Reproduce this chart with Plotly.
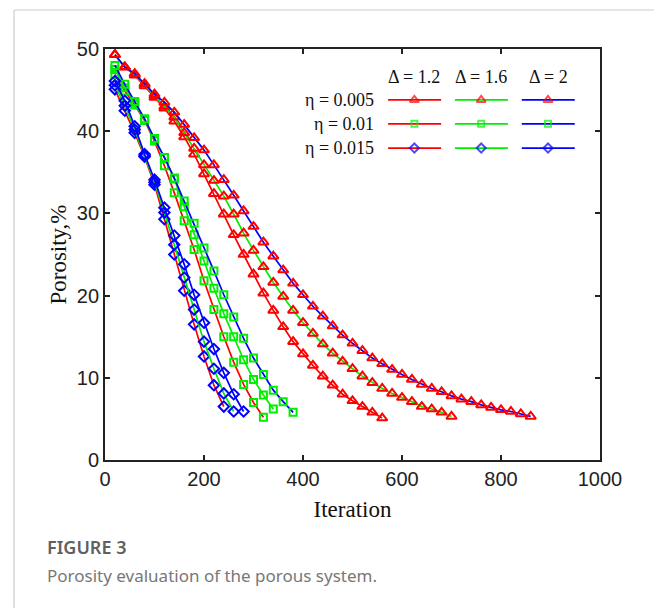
import plotly.graph_objects as go

# Iteration values (shared x grid, each series uses its first N entries)
iterations = [20, 40, 60, 80, 100, 120, 140, 160, 180, 200,
              220, 240, 260, 280, 300, 320, 340, 360, 380, 400,
              420, 440, 460, 480, 500, 520, 540, 560, 580, 600,
              620, 640, 660, 680, 700, 720, 740, 760, 780, 800,
              820, 840, 860]

# eta = 0.005 (triangles)
eta005_d12 = [49.3, 47.8, 46.8, 45.5, 44.1, 42.8, 41.2, 39.3, 37.2, 34.8,
              32.4, 29.9, 27.4, 25.0, 22.6, 20.3, 18.2, 16.2, 14.4, 12.9,
              11.5, 10.2, 9.1, 8.0, 7.2, 6.5, 5.8, 5.1]
eta005_d16 = [49.3, 47.8, 46.9, 45.7, 44.3, 43.0, 41.7, 39.8, 37.9, 35.9,
              34.0, 32.1, 29.9, 27.6, 25.5, 23.5, 21.6, 19.9, 18.2, 16.7,
              15.4, 14.1, 13.0, 12.0, 11.1, 10.2, 9.4, 8.7, 8.1, 7.6,
              7.1, 6.5, 6.2, 5.8, 5.3]
eta005_d2 = [49.3, 47.8, 47.0, 45.8, 44.5, 43.5, 42.3, 40.8, 39.2, 37.7,
             35.9, 34.1, 32.2, 30.3, 28.4, 26.5, 24.8, 23.1, 21.5, 20.1,
             18.7, 17.5, 16.3, 15.2, 14.2, 13.3, 12.4, 11.7, 11.0, 10.4,
             9.8, 9.2, 8.7, 8.3, 7.8, 7.4, 7.1, 6.7, 6.4, 6.1,
             5.9, 5.6, 5.3]

# eta = 0.01 (squares)
eta01_d12 = [46.9, 44.9, 43.2, 41.3, 38.8, 35.8, 32.5, 29.1, 25.6, 21.8,
             18.3, 15.0, 11.9, 9.2, 7.0, 5.2]
eta01_d16 = [47.5, 45.3, 43.4, 41.4, 39.0, 36.8, 34.2, 30.8, 27.4, 24.2,
             20.9, 17.8, 15.0, 12.2, 9.8, 7.9, 6.2]
eta01_d2 = [48.0, 45.7, 43.6, 41.5, 39.1, 36.8, 34.3, 31.5, 28.8, 25.8,
            23.0, 20.1, 17.4, 14.8, 12.4, 10.4, 8.5, 7.1, 5.8]

# eta = 0.015 (diamonds)
eta015_d12 = [45.1, 42.5, 39.8, 36.9, 33.5, 29.3, 25.0, 20.6, 16.5, 12.6, 9.1, 6.5]
eta015_d16 = [45.6, 43.1, 40.2, 37.0, 33.8, 30.1, 26.2, 22.2, 18.3, 14.4, 11.1, 8.1, 5.9]
eta015_d2 = [46.1, 43.7, 40.6, 37.2, 34.1, 30.7, 27.3, 23.8, 20.1, 16.7, 13.5, 10.6, 8.0, 5.9]

delta_labels = ["Δ = 1.2", "Δ = 1.6", "Δ = 2"]
eta_labels = ["η = 0.005", "η = 0.01", "η = 0.015"]
x_ticks = [0, 200, 400, 600, 800, 1000]
y_ticks = [0, 10, 20, 30, 40, 50]

line_colors = ["#ff0000", "#00ee00", "#0000ff"]
marker_colors = ["#ff0000", "#00ee00", "#0000ff"]
marker_symbols = ["triangle-up-open", "square-open", "diamond-open"]
marker_sizes = [9, 7, 8]

series = [
    [eta005_d12, eta005_d16, eta005_d2],
    [eta01_d12, eta01_d16, eta01_d2],
    [eta015_d12, eta015_d16, eta015_d2],
]

fig = go.Figure()
for ei, row in enumerate(series):
    for di, ys in enumerate(row):
        fig.add_trace(go.Scatter(
            x=iterations[:len(ys)], y=ys, mode="lines+markers",
            line=dict(color=line_colors[di], width=1.7),
            marker=dict(symbol=marker_symbols[ei], size=marker_sizes[ei],
                        color=marker_colors[ei],
                        line=dict(color=marker_colors[ei], width=2)),
            showlegend=False, cliponaxis=False))

# Custom grid legend on an overlay axis spanning the plot area
leg_rows_y = [0.876, 0.818, 0.759]
leg_cols = [(0.572, 0.625, 0.679), (0.707, 0.760, 0.814), (0.842, 0.895, 0.949)]
for ei in range(3):
    for di in range(3):
        x0, xm, x1 = leg_cols[di]
        yv = leg_rows_y[ei]
        fig.add_trace(go.Scatter(
            x=[x0, xm, x1], y=[yv, yv, yv], xaxis="x2", yaxis="y2",
            mode="lines+markers",
            line=dict(color=line_colors[di], width=1.7),
            marker=dict(symbol=marker_symbols[ei],
                        size=[0, marker_sizes[ei] - 1, 0],
                        color=marker_colors[ei],
                        line=dict(color=marker_colors[ei], width=2)),
            showlegend=False, cliponaxis=False, hoverinfo="skip"))

annotations = []
serif = "Liberation Serif, Times New Roman, serif"
for di in range(3):
    annotations.append(dict(text=delta_labels[di], x=leg_cols[di][1], y=0.932,
                            xref="paper", yref="paper", showarrow=False,
                            xanchor="center", yanchor="middle",
                            font=dict(family=serif, size=18, color="#111")))
for ei in range(3):
    annotations.append(dict(text=eta_labels[ei], x=0.548, y=leg_rows_y[ei],
                            xref="paper", yref="paper", showarrow=False,
                            xanchor="right", yanchor="middle",
                            font=dict(family=serif, size=18, color="#111")))

annotations.append(dict(text="FIGURE 3", x=-0.121, y=-0.212, xref="paper", yref="paper",
                        showarrow=False, xanchor="left", yanchor="middle",
                        font=dict(family="Noto Sans, Open Sans, sans-serif", size=18,
                                  color="#606060", weight=600)))
annotations.append(dict(text="Porosity evaluation of the porous system.", x=-0.121, y=-0.280,
                        xref="paper", yref="paper", showarrow=False, xanchor="left", yanchor="middle",
                        font=dict(family="Noto Sans, Open Sans, sans-serif", size=17, color="#777")))

shapes = [
    dict(type="line", xref="paper", yref="paper", x0=-0.1838, x1=1.2, y0=1.0949, y1=1.0949,
         line=dict(color="#cccccc", width=1.2)),
    dict(type="line", xref="paper", yref="paper", x0=-0.1838, x1=-0.1838, y0=1.0949, y1=-0.37,
         line=dict(color="#cccccc", width=1.2)),
]

axis_common = dict(showgrid=False, zeroline=False, showline=True, linecolor="#222",
                   linewidth=1.8, mirror="ticks", ticks="inside", ticklen=5,
                   tickwidth=1.5, tickcolor="#222",
                   tickfont=dict(family="Liberation Sans, Arial, sans-serif", size=20, color="#222"))

fig.update_layout(
    width=654, height=608,
    margin=dict(l=105, r=54, t=49, b=148),
    paper_bgcolor="white", plot_bgcolor="white",
    xaxis=dict(range=[0, 1000], tickvals=x_ticks,
               title=dict(text="Iteration", font=dict(family=serif, size=23, color="#111"), standoff=12),
               **axis_common),
    yaxis=dict(range=[0, 50], tickvals=y_ticks,
               title=dict(text="Porosity,%", font=dict(family=serif, size=23, color="#111"), standoff=4),
               **axis_common),
    xaxis2=dict(overlaying="x", range=[0, 1], visible=False, fixedrange=True),
    yaxis2=dict(overlaying="y", range=[0, 1], visible=False, fixedrange=True),
    annotations=annotations, shapes=shapes, showlegend=False,
)

fig.write_html("out.html")
